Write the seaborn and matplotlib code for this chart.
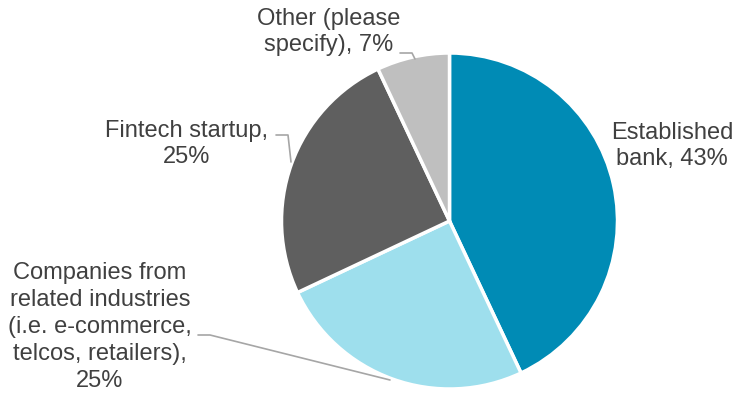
import matplotlib
matplotlib.use("Agg")
import matplotlib.pyplot as plt
import seaborn as sns

# Survey shares (percent)
categories = ["Established bank", "Companies from related industries", "Fintech startup", "Other (please specify)"]
shares = [43, 25, 25, 7]
labels = [
    "Established\nbank, 43%",
    "Companies from\nrelated industries\n(i.e. e-commerce,\ntelcos, retailers),\n25%",
    "Fintech startup,\n25%",
    "Other (please\nspecify), 7%",
]
colors = ["#008BB5", "#9EDFED", "#5F5F5F", "#BFBFBF"]

sns.set_theme(style="white")
plt.rcParams["font.family"] = ["Liberation Sans", "DejaVu Sans"]

W, H = 737, 396
fig = plt.figure(figsize=(W / 100, H / 100), dpi=100)
ax = fig.add_axes([0, 0, 1, 1])

cx, cy, r = 449.5, H - 221, 168
ax.pie(shares, colors=sns.color_palette(colors), startangle=90, counterclock=False,
       center=(cx, cy), radius=r, frame=True,
       wedgeprops=dict(edgecolor="white", linewidth=2.5))
ax.set_xlim(0, W)
ax.set_ylim(0, H)
ax.set_aspect("equal")
ax.axis("off")

txt = dict(fontsize=17, color="#404040", ha="center", va="center", linespacing=1.28)
label_pos = [(672, 146), (100, 327), (187, 144), (329, 32)]
for lab, (x, y) in zip(labels, label_pos):
    ax.text(x, H - y, lab, **txt)

# leader lines (pixel coords, y from top)
leaders = [
    [(198, 335), (210, 335), (390, 380)],
    [(276, 135), (288, 135), (291, 162)],
    [(400, 53), (412, 53), (415, 59)],
]
for pts in leaders:
    xs = [p[0] for p in pts]
    ys = [H - p[1] for p in pts]
    ax.plot(xs, ys, color="#A6A6A6", linewidth=1.2)

fig.savefig("out.png", dpi=100, facecolor="white")
